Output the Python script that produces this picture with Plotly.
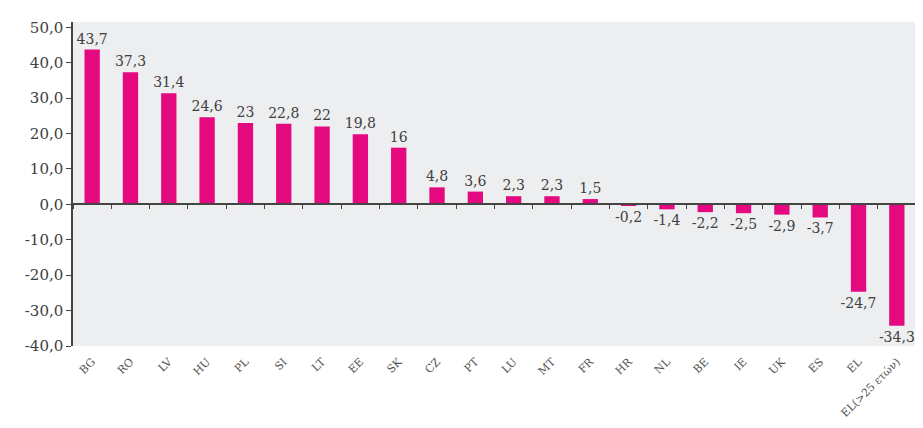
import plotly.graph_objects as go

categories = ["BG", "RO", "LV", "HU", "PL", "SI", "LT", "EE", "SK", "CZ", "PT", "LU",
              "MT", "FR", "HR", "NL", "BE", "IE", "UK", "ES", "EL", "EL(>25 ετών)"]
values = [43.7, 37.3, 31.4, 24.6, 23, 22.8, 22, 19.8, 16, 4.8, 3.6, 2.3,
          2.3, 1.5, -0.2, -1.4, -2.2, -2.5, -2.9, -3.7, -24.7, -34.3]
labels = ["43,7", "37,3", "31,4", "24,6", "23", "22,8", "22", "19,8", "16", "4,8", "3,6", "2,3",
          "2,3", "1,5", "-0,2", "-1,4", "-2,2", "-2,5", "-2,9", "-3,7", "-24,7", "-34,3"]
y_ticks = [50, 40, 30, 20, 10, 0, -10, -20, -30, -40]
y_tick_text = ["50,0", "40,0", "30,0", "20,0", "10,0", "0,0", "-10,0", "-20,0", "-30,0", "-40,0"]

SERIF = "DejaVu Serif"
BAR = "#E5097F"
TXT = "#404040"

fig = go.Figure()
fig.add_trace(go.Bar(
    x=categories, y=values, text=labels, textposition="outside",
    textfont=dict(family=SERIF, size=14, color=TXT),
    constraintext="none",
    marker=dict(color=BAR, line=dict(width=0)),
    width=0.4, cliponaxis=False, showlegend=False, hoverinfo="x+y",
))
# invisible trace to carry the zero-level axis with boundary ticks
fig.add_trace(go.Scatter(x=categories, y=values, xaxis="x2", mode="none",
                         showlegend=False, hoverinfo="skip"))

y_min, y_max = -40, 51.5
x_range = [-0.5, len(categories) - 0.5]
fig.update_layout(
    width=923, height=428,
    margin=dict(l=65, r=15, t=14, b=90),
    paper_bgcolor="white", plot_bgcolor="#EDEEF0",
    font=dict(family=SERIF, color=TXT),
    xaxis=dict(type="category", range=x_range, tickangle=-45, showline=False, showgrid=False,
               zeroline=False, ticks="outside", ticklen=4, tickcolor="rgba(0,0,0,0)",
               automargin=False,
               tickfont=dict(family=SERIF, size=11, color="#555555")),
    xaxis2=dict(type="category", range=x_range, overlaying="x", anchor="free",
                position=(0 - y_min) / (y_max - y_min), side="bottom",
                showline=True, linecolor="#444444", linewidth=1.5,
                ticks="outside", ticklen=4, tickcolor="#444444", tickwidth=1.2,
                tickson="boundaries", showticklabels=False, showgrid=False),
    yaxis=dict(range=[y_min, y_max], tickvals=y_ticks, ticktext=y_tick_text,
               showgrid=False, zeroline=False, showline=True, linecolor="#444444",
               linewidth=1.5, ticks="outside", ticklen=5, tickcolor="#444444",
               automargin=False,
               tickfont=dict(family=SERIF, size=15, color=TXT)),
    bargap=0.6,
)
fig.write_html("out.html")
